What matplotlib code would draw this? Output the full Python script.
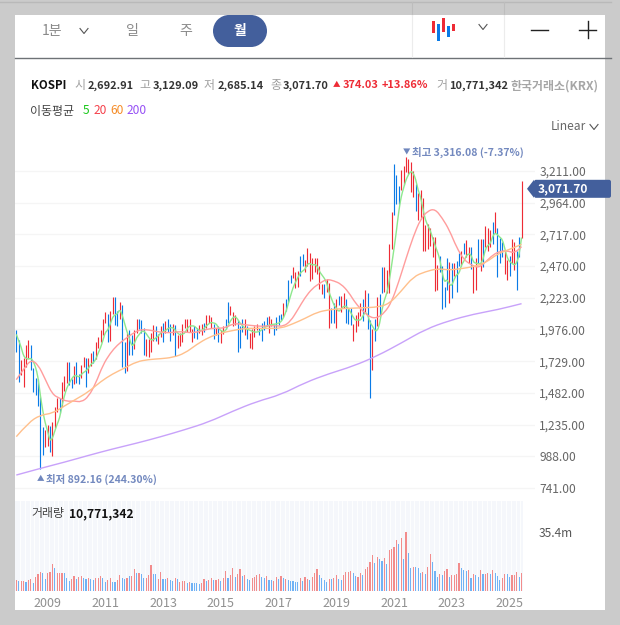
import matplotlib
matplotlib.use('Agg')
import matplotlib.pyplot as plt
from matplotlib.patches import FancyBboxPatch, PathPatch, Polygon, Rectangle
from matplotlib.path import Path

plt.rcParams['font.family'] = ['Noto Sans CJK KR', 'DejaVu Sans']

# 2007-12 ~ 2025-06, monthly (one row per year, first row is Dec 2007 + 2008)
highs = [1972,
         1894, 1738, 1751, 1855, 1894, 1855, 1673, 1595, 1590, 1450, 1219, 1193,
         1229, 1227, 1257, 1374, 1445, 1442, 1570, 1615, 1723, 1723, 1590, 1690,
         1723, 1630, 1700, 1760, 1750, 1750, 1790, 1810, 1880, 1920, 1975, 2060,
         2115, 2100, 2120, 2231, 2228, 2120, 2190, 2170, 1880, 1950, 1970, 1930,
         1970, 2060, 2060, 2050, 1990, 1900, 1900, 1950, 2010, 2000, 1940, 2000,
         2030, 2040, 2060, 2015, 2020, 2010, 1930, 1950, 2020, 2060, 2060, 2060,
         1980, 2000, 1990, 2010, 2020, 2025, 2090, 2090, 2070, 2020, 1990, 2000,
         1970, 2000, 2060, 2190, 2160, 2110, 2090, 2050, 2000, 2060, 2060, 2000,
         1950, 1980, 2000, 2020, 1990, 2030, 2040, 2070, 2080, 2060, 2020, 2070,
         2090, 2100, 2180, 2210, 2360, 2400, 2460, 2420, 2430, 2550, 2560, 2520,
         2610, 2570, 2530, 2530, 2530, 2470, 2330, 2330, 2370, 2340, 2140, 2180,
         2210, 2240, 2240, 2260, 2210, 2140, 2140, 2020, 2090, 2110, 2180, 2210,
         2280, 2260, 2050, 1980, 2060, 2230, 2250, 2460, 2460, 2440, 2640, 2890,
         3265, 3180, 3090, 3220, 3250, 3316, 3305, 3280, 3210, 3110, 3040, 3060,
         3000, 2790, 2800, 2770, 2700, 2700, 2480, 2550, 2470, 2310, 2530, 2500,
         2490, 2490, 2510, 2570, 2590, 2650, 2670, 2620, 2620, 2470, 2530, 2680,
         2680, 2680, 2780, 2770, 2750, 2810, 2890, 2770, 2690, 2660, 2590, 2520,
         2550, 2680, 2660, 2590, 2700, 3129]
lows = [1803,
        1569, 1621, 1530, 1686, 1751, 1660, 1491, 1465, 1380, 892, 998, 1063,
        1069, 1018, 992, 1205, 1330, 1325, 1370, 1500, 1556, 1540, 1520, 1550,
        1560, 1552, 1600, 1680, 1530, 1640, 1690, 1715, 1745, 1830, 1880, 1930,
        2030, 1880, 1885, 2100, 2010, 2000, 2060, 1685, 1635, 1650, 1780, 1780,
        1820, 1950, 1980, 1950, 1780, 1770, 1760, 1800, 1890, 1890, 1860, 1920,
        1880, 1950, 1960, 1890, 1930, 1770, 1830, 1850, 1880, 1990, 1960, 1960,
        1880, 1910, 1900, 1950, 1930, 1960, 1990, 2030, 1990, 1900, 1930, 1880,
        1870, 1940, 1980, 2030, 2090, 2000, 2010, 1800, 1830, 1960, 1930, 1900,
        1830, 1820, 1920, 1970, 1930, 1890, 1970, 2000, 1950, 2000, 1930, 1970,
        2010, 2050, 2070, 2120, 2190, 2340, 2380, 2300, 2310, 2390, 2470, 2420,
        2470, 2350, 2370, 2420, 2410, 2290, 2250, 2220, 2270, 1990, 2030, 2030,
        1990, 2170, 2110, 2140, 2030, 2020, 2010, 1890, 1960, 2000, 2080, 2040,
        2110, 1980, 1442, 1660, 1890, 2000, 2090, 2260, 2270, 2260, 2260, 2600,
        2868, 2950, 2950, 3060, 3100, 3200, 3190, 3050, 3010, 2900, 2830, 2840,
        2590, 2590, 2600, 2630, 2540, 2275, 2280, 2420, 2135, 2150, 2280, 2180,
        2220, 2390, 2270, 2470, 2470, 2560, 2540, 2490, 2450, 2260, 2280, 2490,
        2430, 2460, 2620, 2590, 2620, 2640, 2730, 2386, 2490, 2540, 2410, 2360,
        2390, 2490, 2440, 2283, 2540, 2685]
candle_dirs = ('b' 'brrrrbbbbbbr'
               'rbrrrbrrrbbr'
               'bbrrbrrbrrrr'
               'rbrrbbrbbrbb'
               'rrbbbrrrrbrr'
               'brbbrbrrrrrr'
               'rbbrrbrrrbrb'
               'rrbbrrrbbbrb'
               'rrrrbbbbrrbb'
               'bbrbbbrrrbbr'
               'rrrrrrrbrrbb'
               'rbrrbbbrrrrb'
               'rbbrbrbbrrrr'
               'bbbrrrrrrbrr'
               'rrrrrrrbbbbr'
               'brbbrbrrbrrb'
               'rbrrrbrbbbrr'
               'brrbbrbbbbbb'
               'rrbrrr')
ma5 = [1938,
       1888, 1841, 1769, 1752, 1743, 1753, 1730, 1684, 1609, 1461, 1341, 1247,
       1185, 1108, 1126, 1185, 1239, 1285, 1383, 1460, 1521, 1558, 1591, 1616,
       1618, 1603, 1625, 1642, 1654, 1673, 1706, 1716, 1742, 1791, 1832, 1890,
       1956, 1969, 2014, 2071, 2090, 2096, 2135, 2090, 2024, 1958, 1908, 1846,
       1861, 1913, 1934, 1961, 1965, 1944, 1915, 1893, 1896, 1910, 1925, 1948,
       1960, 1966, 1984, 1990, 1991, 1972, 1949, 1933, 1940, 1946, 1982, 2003,
       2004, 2003, 1984, 1970, 1966, 1982, 2004, 2020, 2032, 2026, 2022, 1990,
       1966, 1959, 1966, 2003, 2043, 2068, 2077, 2057, 2024, 2007, 1985, 1977,
       1971, 1962, 1955, 1956, 1960, 1972, 1990, 1999, 2010, 2014, 2017, 2019,
       2025, 2035, 2065, 2110, 2174, 2239, 2301, 2342, 2380, 2415, 2431, 2445,
       2485, 2492, 2476, 2484, 2470, 2427, 2401, 2376, 2342, 2263, 2217, 2166,
       2143, 2113, 2135, 2157, 2157, 2142, 2108, 2073, 2045, 2053, 2045, 2080,
       2110, 2095, 2029, 2004, 1967, 1965, 2017, 2132, 2208, 2256, 2352, 2477,
       2607, 2744, 2903, 3014, 3080, 3144, 3182, 3210, 3194, 3147, 3060, 3011,
       2917, 2830, 2787, 2750, 2691, 2634, 2584, 2527, 2419, 2341, 2369, 2326,
       2316, 2368, 2404, 2410, 2478, 2506, 2550, 2566, 2559, 2499, 2493, 2488,
       2486, 2521, 2604, 2632, 2643, 2703, 2728, 2714, 2694, 2678, 2610, 2536,
       2504, 2492, 2477, 2495, 2558, 2692]
# longer averages read every few months
ma20_step = 3
ma20 = [1585, 1665, 1740, 1705, 1590, 1470, 1440, 1415, 1420, 1410, 1452, 1556,
        1699, 1790, 1855, 1899, 1940, 1972, 1975, 1965, 1955, 1950, 1955, 1960,
        1950, 1955, 1970, 1985, 1985, 1990, 2020, 2020, 2010, 2005, 2000, 2005,
        2005, 2000, 2040, 2130, 2225, 2295, 2335, 2368, 2355, 2330, 2270, 2180,
        2120, 2070, 2065, 2105, 2190, 2350, 2530, 2700, 2835, 2900, 2915, 2845,
        2750, 2615, 2520, 2480, 2455, 2500, 2556, 2585, 2590, 2570, 2621]
ma60_step = 5
ma60 = [1141, 1250, 1310, 1322, 1380, 1435, 1490, 1569, 1630, 1675, 1725, 1742,
        1748, 1758, 1790, 1860, 1915, 1948, 1968, 1985, 1985, 1985, 1985, 2020,
        2062, 2110, 2130, 2138, 2142, 2146, 2150, 2175, 2275, 2387, 2426, 2450,
        2439, 2450, 2465, 2495, 2565, 2600, 2639]
ma200_step = 10
ma200 = [842, 894, 942, 995, 1045, 1090, 1140, 1195, 1255, 1340, 1415, 1468,
         1562, 1632, 1690, 1770, 1870, 1977, 2045, 2095, 2130, 2177]
volumes = [6.4, 5.8, 5.8, 5.8, 5.6, 6.4, 7.0, 4.8, 8.2, 10.0, 11.2, 10.6,
           7.0, 10.6, 11.2, 16.0, 13.6, 10.6, 10.6, 10.6, 10.6, 7.6, 6.0, 7.2,
           8.8, 7.2, 8.6, 8.8, 7.6, 7.2, 7.6, 7.0, 6.4, 7.6, 7.6, 8.8,
           7.6, 5.2, 6.4, 7.6, 5.6, 5.2, 6.4, 9.4, 7.6, 7.0, 7.6, 8.8,
           8.8, 13.0, 10.6, 10.6, 10.0, 7.6, 8.0, 9.8, 15.4, 10.0, 10.0, 7.0,
           11.2, 7.0, 7.0, 7.6, 6.4, 5.8, 7.6, 7.0, 5.2, 5.8, 5.8, 4.6,
           5.2, 4.6, 4.6, 4.6, 4.0, 4.6, 7.0, 5.8, 6.4, 7.6, 6.4, 6.4,
           7.0, 5.8, 8.0, 11.8, 7.6, 9.4, 13.6, 8.2, 10.0, 13.0, 8.8, 9.4,
           7.0, 6.4, 7.6, 8.2, 9.4, 10.0, 8.2, 7.6, 8.8, 6.4, 6.4, 5.8,
           8.2, 7.0, 8.8, 7.6, 7.0, 6.4, 5.8, 5.8, 5.2, 5.6, 7.6, 5.8,
           8.2, 7.4, 6.6,
           8.2, 10.6, 13.0, 9.4, 7.6, 6.4, 5.2, 7.0, 7.0, 7.6, 9.4, 7.0,
           6.4, 9.4, 11.2, 11.2, 11.8, 10.6, 8.8, 8.6, 10.6, 9.8, 13.0, 14.2,
           17.2, 21.4, 16.6, 20.2, 19.0, 17.8, 19.6, 16.0, 24.4, 25.0, 26.2, 30.4,
           28.0, 31.6, 19.0, 35.6, 22.6, 13.6, 14.2, 14.2, 13.6, 10.6, 11.2, 10.0,
           14.2, 22.0, 17.2, 11.8, 8.2, 10.0, 9.4, 11.8, 13.0, 8.2, 9.4, 9.4,
           10.0, 16.6, 13.6, 12.4, 11.8, 12.4, 7.6, 10.0, 9.4, 8.2, 12.4, 10.0,
           10.0, 10.6, 10.0, 12.4, 10.6, 8.8, 6.4, 7.6, 10.0, 10.0, 8.2, 9.4,
           9.4, 11.2, 8.2, 10.6]
volume_dirs = ('rbrrbrrbrrrb' 'brrrbrrrbbbr' 'rbrrbbrbbrrr' 'bbrrbbrrbbrb'
               'rrbrbbrrrbbr' 'rbbrbbrbrrrb' 'rbbbbrrbrrbr' 'rbrrbrrbrrbr'
               'bbrrrrbbrbbr' 'rbrbrbbbbbrb' 'rrb'
               'rrrbbbbrbrrb' 'brrrrbbrrbrr' 'rrbrbbrbrrrr' 'brbrbbrbbbrb'
               'rrbbbrbrrbrr' 'rrbbbrbrbbrb' 'rrbrbbbrrbbr' 'rrbr')
price_ticks = [741, 988, 1235, 1482, 1729, 1976, 2223, 2470, 2717, 2964, 3211]
year_labels = [2009, 2011, 2013, 2015, 2017, 2019, 2021, 2023, 2025]
last_close = 3071.70

W, H = 620, 625
RED = '#ee2b35'
BLUE = '#0a7ae6'


def px(v):
    return v * 0.72


def axes_px(left, top, right, bottom):
    return fig.add_axes([left / W, 1 - bottom / H, (right - left) / W, (bottom - top) / H])


def smooth_line(ax, xs, ys, color):
    # quadratic curve through the midpoints, the site draws rounded lines too
    verts = [(xs[0], ys[0])]
    codes = [Path.MOVETO]
    for i in range(1, len(xs) - 1):
        verts += [(xs[i], ys[i]), ((xs[i] + xs[i + 1]) / 2, (ys[i] + ys[i + 1]) / 2)]
        codes += [Path.CURVE3, Path.CURVE3]
    verts.append((xs[-1], ys[-1]))
    codes.append(Path.LINETO)
    ax.add_patch(PathPatch(Path(verts, codes), fc='none', ec=color, lw=px(1.4), zorder=3))


fig = plt.figure(figsize=(W / 100, H / 100), dpi=100, facecolor='#cbcbcb')

# page chrome in pixel coordinates
bg = axes_px(0, 0, W, H)
bg.set_xlim(0, W)
bg.set_ylim(H, 0)
bg.axis('off')
bg.add_patch(Rectangle((15, 15), 590, 595, fc='white', ec='none'))
bg.plot([0, 611], [1.5, 1.5], color='#b9b9b9', lw=1)
bg.plot([15, 611], [57.5, 57.5], color='#6e7276', lw=1)
for x in (411.5, 503.5):
    bg.plot([x, x], [2, 15], color='#bdbdbd', lw=0.8)
    bg.plot([x, x], [15, 57], color='#ececec', lw=0.8)

bg.add_patch(Rectangle((229, 15), 22, 32, fc='#435f9c', ec='none'))
bg.add_patch(plt.Circle((229, 31), 16, fc='#435f9c', ec='none'))
bg.add_patch(plt.Circle((251, 31), 16, fc='#435f9c', ec='none'))


def label(x, y, s, size=12, color='#222222', weight='normal', ha='left'):
    return bg.text(x, y, s, fontsize=px(size), color=color, fontweight=weight, ha=ha, va='center')


def chevron(x, y, w=4, h=2.5, color='#555555'):
    bg.plot([x - w, x, x + w], [y - h, y + h, y - h], color=color, lw=0.8)


label(52, 31, '1분', 14, '#8a8a8a', ha='center')
chevron(84, 31)
label(132, 31, '일', 14, '#8a8a8a', ha='center')
label(186, 31, '주', 14, '#8a8a8a', ha='center')
label(240, 31, '월', 14, 'white', 'bold', ha='center')

# candle icon
for x, y0, y1, c in [(433.5, 21, 33, RED), (438.5, 24, 41, BLUE), (443.5, 18, 32, RED),
                     (448.5, 26, 37, BLUE), (453.5, 24, 31, RED)]:
    bg.add_patch(Rectangle((x - 1.5, y0), 3, y1 - y0, fc=c, ec='none'))
chevron(483, 27)
bg.plot([531, 548], [29.5, 29.5], color='#222222', lw=1)
bg.plot([579, 596], [29.5, 29.5], color='#222222', lw=1)
bg.plot([587.5, 587.5], [21, 38], color='#222222', lw=1)

label(30.5, 85.5, 'KOSPI', 11.5, '#111111', 'bold')
for x, s in [(74, '시'), (139, '고'), (204, '저'), (270, '종'), (436, '거')]:
    label(x, 85.5, s, 12, '#a0a0a0')
for x, s in [(88, '2,692.91'), (153, '3,129.09'), (218, '2,685.14'), (283, '3,071.70'), (449, '10,771,342')]:
    label(x, 85.5, s, 11, '#333333', 'bold')
label(333, 85.5, '▲', 7.5, RED)
label(343, 85.5, '374.03', 11, RED, 'bold')
label(382, 85.5, '+13.86%', 11, RED, 'bold')
label(511, 86.5, '한국거래소(KRX)', 12, '#a6a6a6', 'bold')

label(30, 111, '이동평균', 12, '#444444')
label(83, 111, '5', 12, '#19c819')
label(94, 111, '20', 12, '#f5414b')
label(110, 111, '60', 12, '#f58c28')
label(127, 111, '200', 12, '#9650f5')
label(551, 126, 'Linear', 12, '#666666')
chevron(594, 127)

# price pane
X0, PX_PER_MONTH = 16.3, 2.406
ax = axes_px(15, 150, 535, 500)
ax.patch.set_alpha(0)
ax.set_xlim((15 - X0) / PX_PER_MONTH, (535 - X0) / PX_PER_MONTH)
ax.set_ylim(741 + (488 - 500) * 7.79, 741 + (488 - 150) * 7.79)
for s in ax.spines.values():
    s.set_visible(False)
ax.set_xticks([])
ax.yaxis.tick_right()
ax.set_yticks(price_ticks)
ax.set_yticklabels([f'{v:,.2f}' for v in price_ticks])
ax.tick_params(axis='y', length=0, pad=3, labelsize=px(12), labelcolor='#666666')
ax.grid(axis='y', color='#f5f5f5', lw=1)
ax.set_axisbelow(True)

months = list(range(len(highs)))
ax.vlines(months, lows, highs, colors=[RED if d == 'r' else BLUE for d in candle_dirs], lw=px(1.15), zorder=2)
smooth_line(ax, months, ma5, '#8ee88e')
smooth_line(ax, months[::ma20_step], ma20, '#ff9d9d')
smooth_line(ax, months[::ma60_step], ma60, '#ffc08c')
smooth_line(ax, months[::ma200_step], ma200, '#c8a2fa')

# high / low callouts
label(403, 152, '▼', 7.5, '#6f86bd', 'bold')
label(412, 152, '최고 3,316.08 (-7.37%)', 10.5, '#7389bf', 'bold')
label(37, 479, '▲', 7.5, '#6f86bd', 'bold')
label(46, 479, '최저 892.16 (244.30%)', 10.5, '#7389bf', 'bold')

# volume pane
vx = axes_px(15, 501, 523, 591)
vx.set_facecolor('#f5f7fb')
vx.set_xlim((15 - X0) / PX_PER_MONTH, (523 - X0) / PX_PER_MONTH)
vx.set_ylim(0, 54)
for s in vx.spines.values():
    s.set_visible(False)
for k in range(1, 106):
    vx.axvline(k * 2 - 0.5, color='white', lw=px(0.9), zorder=1)
vx.bar(months, volumes, width=0.48, color=['#f28c8c' if d == 'r' else '#70b2f5' for d in volume_dirs], zorder=2)
vx.set_xticks([1 + 12 * (y - 2008) for y in year_labels])
vx.set_xticklabels(year_labels)
vx.tick_params(axis='x', length=0, pad=4, labelsize=px(12.5), labelcolor='#909090')
vx.yaxis.tick_right()
vx.set_yticks([35.4])
vx.set_yticklabels(['35.4m'])
vx.tick_params(axis='y', length=0, pad=px(16), labelsize=px(12), labelcolor='#555555')

# last price tag, above everything else
top = axes_px(0, 0, W, H)
top.set_xlim(0, W)
top.set_ylim(H, 0)
top.axis('off')
tag_y = 488 - (last_close - 741) / 7.79
top.add_patch(Polygon([(527, tag_y), (534, tag_y - 9), (534, tag_y + 9)], fc='#435f9c', ec='none'))
top.add_patch(FancyBboxPatch((534, tag_y - 9), 77, 18, boxstyle='round,pad=0,rounding_size=2',
                             fc='#435f9c', ec='none'))
top.text(538, tag_y, f'{last_close:,.2f}', fontsize=px(12), color='white', va='center', fontweight='bold')
top.text(31, 514, '거래량', fontsize=px(12), color='#444444', va='center')
top.text(69, 514, '10,771,342', fontsize=px(12), color='#111111', va='center', fontweight='bold')

fig.savefig('out.png', dpi=100, facecolor=fig.get_facecolor())
